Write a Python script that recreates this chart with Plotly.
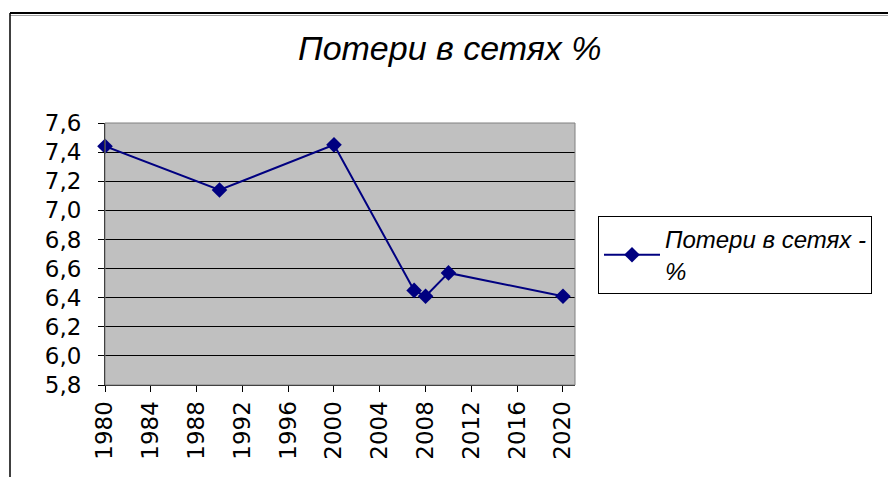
import plotly.graph_objects as go

years = [1980, 1990, 2000, 2007, 2008, 2010, 2020]
losses = [7.44, 7.14, 7.45, 6.45, 6.41, 6.57, 6.41]
series_name = "Потери в сетях -<br>%"
title_text = "Потери в сетях %"
y_tick_vals = [5.8, 6.0, 6.2, 6.4, 6.6, 6.8, 7.0, 7.2, 7.4, 7.6]
y_tick_text = ["5,8", "6,0", "6,2", "6,4", "6,6", "6,8", "7,0", "7,2", "7,4", "7,6"]
x_tick_vals = [1980, 1984, 1988, 1992, 1996, 2000, 2004, 2008, 2012, 2016, 2020]

W, H = 888, 477
L, R, T, B = 105, 575, 123, 385

def px(x):
    return (x - L) / (R - L)

def py(y):
    return (B - y) / (B - T)

fig = go.Figure()
fig.add_trace(go.Scatter(
    x=years, y=losses, mode="lines+markers", name=series_name,
    line=dict(color="#000080", width=2),
    marker=dict(symbol="diamond", size=12, color="#000080"),
    cliponaxis=False,
))

tickfont_family = "DejaVu Sans, sans-serif"

fig.update_layout(
    width=W, height=H,
    margin=dict(l=L, r=W - R, t=T, b=H - B),
    paper_bgcolor="white",
    plot_bgcolor="#c0c0c0",
    font=dict(family="Liberation Sans, Arial, sans-serif", color="black"),
    showlegend=True,
    legend=dict(
        x=px(598), y=py(216), xanchor="left", yanchor="top",
        bordercolor="black", borderwidth=1, bgcolor="white",
        font=dict(size=24, style="italic"),
        itemwidth=56,
    ),
    xaxis=dict(
        range=[1980, 2021.05], tickvals=x_tick_vals, tickangle=-90,
        showgrid=False, zeroline=False, showline=True, linecolor="black",
        ticks="outside", ticklen=6, tickcolor="black",
        tickfont=dict(size=23, family=tickfont_family),
    ),
    yaxis=dict(
        range=[5.8, 7.6], tickvals=y_tick_vals, ticktext=y_tick_text,
        showgrid=True, gridcolor="black", gridwidth=1, zeroline=False,
        showline=True, linecolor="black",
        ticks="outside", ticklen=6, tickcolor="black",
        ticklabelstandoff=12,
        tickfont=dict(size=23, family=tickfont_family),
    ),
    shapes=[
        dict(type="rect", xref="paper", yref="paper", x0=0, x1=1, y0=0, y1=1,
             line=dict(color="#808080", width=1)),
        dict(type="line", xref="paper", yref="paper",
             x0=px(10), x1=px(900), y0=py(13), y1=py(13),
             line=dict(color="black", width=2)),
        dict(type="line", xref="paper", yref="paper",
             x0=px(10), x1=px(900), y0=py(15.5), y1=py(15.5),
             line=dict(color="#a0a0a0", width=1)),
        dict(type="line", xref="paper", yref="paper",
             x0=px(10), x1=px(10), y0=py(13), y1=py(490),
             line=dict(color="black", width=1.5)),
    ],
    annotations=[
        dict(text=title_text, xref="paper", yref="paper",
             x=px(450), y=py(48), xanchor="center", yanchor="middle",
             showarrow=False, font=dict(size=34, style="italic")),
    ],
)

fig.write_html("out.html", config={"displayModeBar": False},
               post_script="document.body.style.margin='0';")
